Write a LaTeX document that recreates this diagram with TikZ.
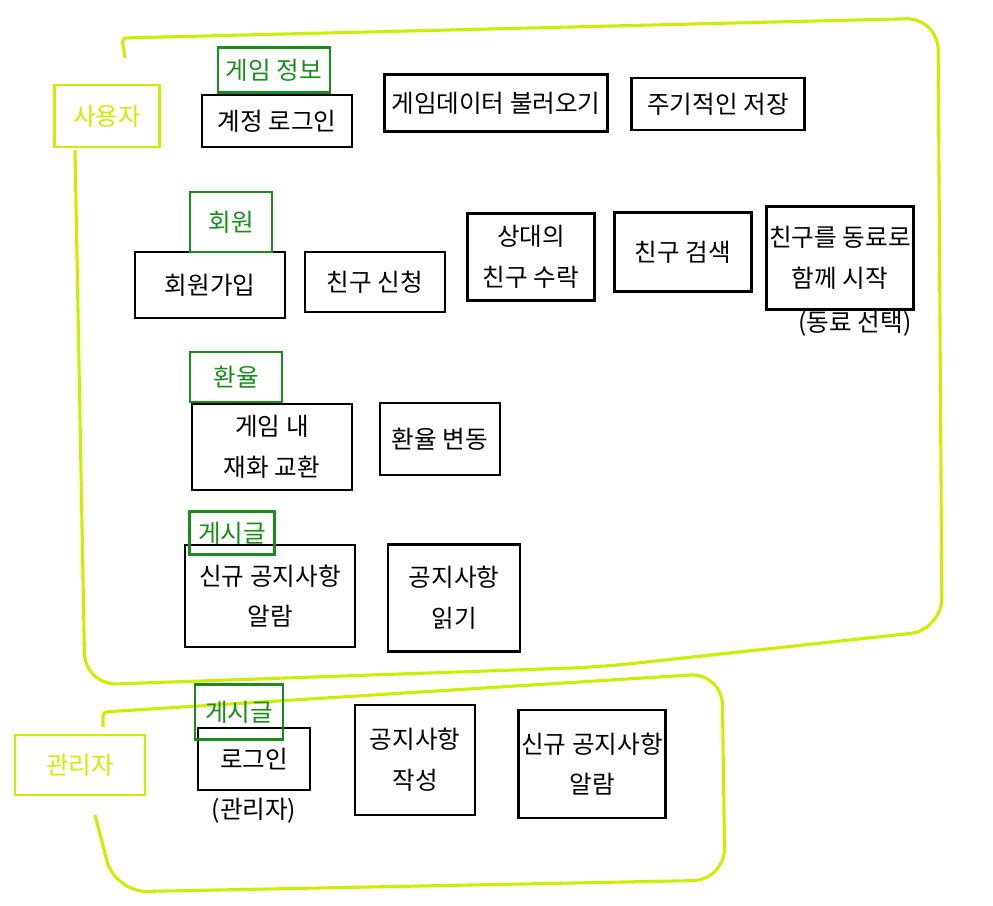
\documentclass[tikz,border=0pt]{standalone}
\usepackage{fontspec}
\setmainfont{Noto Sans CJK KR}
\usepackage{tikz}
\usetikzlibrary{positioning}
\definecolor{limeline}{HTML}{CCEE00}
\definecolor{taggreen}{HTML}{1A8C1A}
\newcommand{\handfont}{\fontsize{17.5}{29}\selectfont}

\begin{document}
\begin{tikzpicture}[
  x=0.025cm, y=-0.025cm,
  box/.style={draw, line width=1.5pt, align=center, font=\handfont, inner sep=2pt},
  tag/.style={draw=taggreen, text=taggreen, line width=1.5pt, align=center, font=\handfont, inner sep=2pt},
  actor/.style={draw=limeline, text=limeline, line width=2pt, align=center, font=\handfont},
  note/.style={font=\handfont},
  zone/.style={limeline, line width=2.2pt, rounded corners=0.8cm}
]
\useasboundingbox (0,0) rectangle (993,906);

% ======= User Zone =======
\draw[zone] (125,58) [rounded corners=0.1cm] -- (122,38) [rounded corners=0.8cm] -- (938,18) -- (942,630) -- (600,667) -- (85,685) -- (75,150);
\node[actor, minimum width=2.625cm, minimum height=1.55cm] (user) at (107,116) {사용자};

% game info
\node[box, minimum width=3.75cm,  minimum height=1.3cm]   (login)  at (277,121) {계정 로그인};
\node[tag, minimum width=2.8cm,   minimum height=1.125cm] (tinfo)  at (274,70)  {게임 정보};
\node[box, minimum width=5.575cm, minimum height=1.425cm] (load)   at (496,103) {게임데이터 불러오기};
\node[box, minimum width=4.325cm, minimum height=1.3cm]   (save)   at (718,104) {주기적인 저장};

% member
\node[box, minimum width=3.75cm,  minimum height=1.65cm]  (signup) at (210,285) {회원가입};
\node[tag, minimum width=2.05cm,  minimum height=1.5cm]   (tmember) at (231,222) {회원};
\node[box, minimum width=3.5cm,   minimum height=1.5cm]   (freq)   at (375,282) {친구 신청};
\node[box, minimum width=3.175cm, minimum height=2.175cm] (faccept) at (531,257) {상대의\\친구 수락};
\node[box, minimum width=3.425cm, minimum height=1.975cm] (fsearch) at (683,252) {친구 검색};
\node[box, minimum width=3.6cm,   minimum height=2.575cm] (party)  at (840,258) {친구를 동료로\\함께 시작};
\node[note] (partynote) at (855,324) {(동료 선택)};

% exchange rate
\node[box, minimum width=4cm,     minimum height=2.15cm]  (trade)  at (272,447) {게임 내\\재화 교환};
\node[tag, minimum width=2.3cm,   minimum height=1.25cm]  (trate)  at (236,377) {환율};
\node[box, minimum width=3cm,     minimum height=1.8cm]   (rate)   at (440,439) {환율 변동};

% board
\node[box, minimum width=4.25cm,  minimum height=2.55cm]  (alarm)  at (270,596) {신규 공지사항\\알람};
\node[tag, minimum width=2.125cm, minimum height=1.075cm] (tboard) at (232,533) {게시글};
\node[box, minimum width=3.3cm,   minimum height=2.675cm] (read)   at (454,598) {공지사항\\읽기};

% ======= Admin Zone =======
\draw[zone] (103,727) [rounded corners=0.1cm] -- (103,712) [rounded corners=0.8cm] -- (722,673) -- (725,880) -- (115,892) -- (95,815);
\node[actor, minimum width=3.25cm, minimum height=1.5cm] (admin) at (80,765) {관리자};

\node[box, minimum width=2.8cm,   minimum height=1.55cm]  (alogin) at (254,759) {로그인};
\node[tag, minimum width=2.2cm,   minimum height=1.375cm] (tadmin) at (239,712) {게시글};
\node[note, below=0.05cm of alogin] (aloginnote) {(관리자)};
\node[box, minimum width=3cm,     minimum height=2.75cm]  (write)  at (415,760) {공지사항\\작성};
\node[box, minimum width=3.625cm, minimum height=2.7cm]   (aalarm) at (592,764) {신규 공지사항\\알람};

\end{tikzpicture}
\end{document}
